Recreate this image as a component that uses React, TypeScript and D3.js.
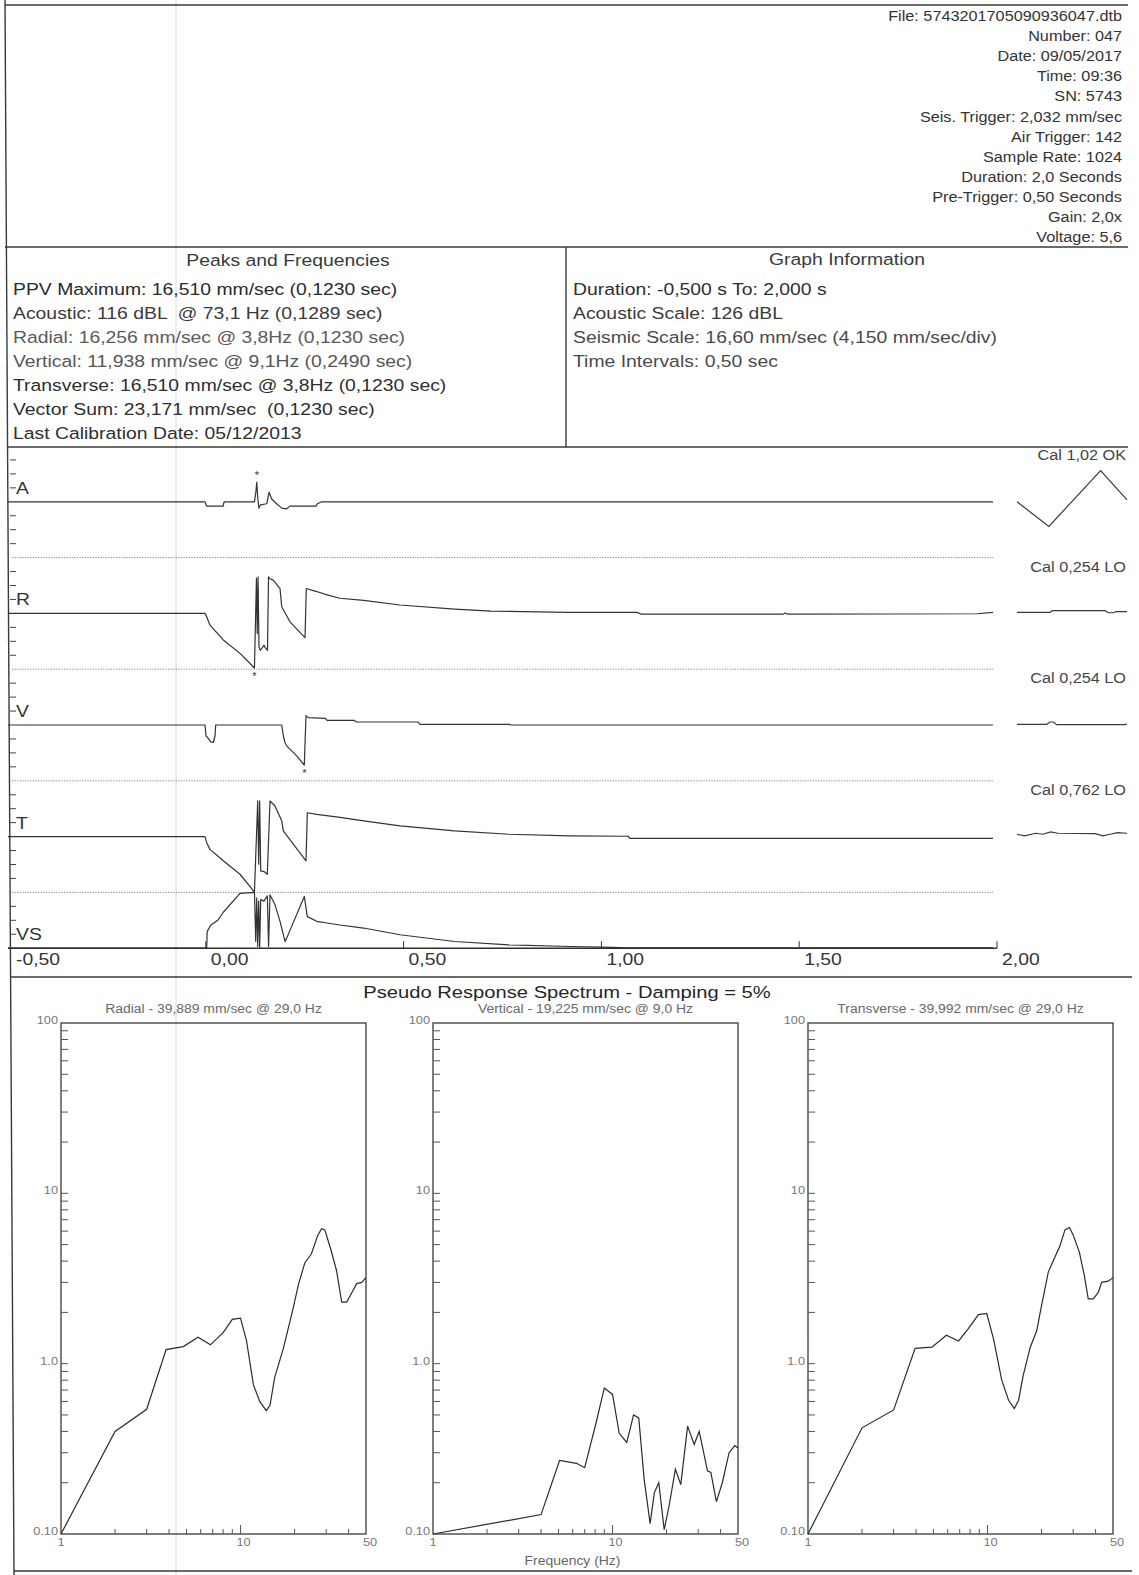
import React from 'react';
import * as d3 from 'd3';

const W = 1139, H = 1575;
const FONT = "'Liberation Sans', Arial, Helvetica, sans-serif";
const SX = 1.16;

const headerLines = [
  'File: 5743201705090936047.dtb', 'Number: 047', 'Date: 09/05/2017', 'Time: 09:36', 'SN: 5743',
  'Seis. Trigger: 2,032 mm/sec', 'Air Trigger: 142', 'Sample Rate: 1024', 'Duration: 2,0 Seconds',
  'Pre-Trigger: 0,50 Seconds', 'Gain: 2,0x', 'Voltage: 5,6',
];
const peaksTitle = 'Peaks and Frequencies';
const peaksLines = [
  'PPV Maximum: 16,510 mm/sec (0,1230 sec)',
  'Acoustic: 116 dBL  @ 73,1 Hz (0,1289 sec)',
  'Radial: 16,256 mm/sec @ 3,8Hz (0,1230 sec)',
  'Vertical: 11,938 mm/sec @ 9,1Hz (0,2490 sec)',
  'Transverse: 16,510 mm/sec @ 3,8Hz (0,1230 sec)',
  'Vector Sum: 23,171 mm/sec  (0,1230 sec)',
  'Last Calibration Date: 05/12/2013',
];
const graphTitle = 'Graph Information';
const graphLines = [
  'Duration: -0,500 s To: 2,000 s',
  'Acoustic Scale: 126 dBL',
  'Seismic Scale: 16,60 mm/sec (4,150 mm/sec/div)',
  'Time Intervals: 0,50 sec',
];
const channels = ['A', 'R', 'V', 'T', 'VS'];
const calLabels = ['Cal 1,02 OK', 'Cal 0,254 LO', 'Cal 0,254 LO', 'Cal 0,762 LO'];
const timeTicks = [-0.5, 0, 0.5, 1, 1.5, 2];
const timeTickLabels = ['-0,50', '0,00', '0,50', '1,00', '1,50', '2,00'];

// waveforms: [time s, value] (A in Pa, others in mm/sec)
const acousticTrace: [number, number][] = [
  [-0.5, 0], [-0.002, 0], [0.002, -3.1], [0.044, -3.1], [0.046, 0], [0.123, 0], [0.1265, 6.9],
  [0.1289, 14.0], [0.1315, 2], [0.1345, -4.5], [0.138, -2.2], [0.154, -1.4], [0.16, 6.9],
  [0.1665, 2], [0.179, -1.4], [0.192, -4.5], [0.2045, -5], [0.213, -3.1], [0.2786, -3.1],
  [0.282, -1.4], [0.293, 0], [1.99, 0],
];
const radialTrace: [number, number][] = [
  [-0.5, 0], [-0.002, 0], [0.0005, -0.5], [0.0106, -3.5], [0.0442, -7.9], [0.0865, -11.9],
  [0.123, -16.256], [0.128, 10.5], [0.13, -6], [0.132, 10.9], [0.1345, -10], [0.138, -11],
  [0.142, -10.3], [0.147, -9.5], [0.152, -10.5], [0.156, -11], [0.1585, 10.9], [0.162, 10.3],
  [0.1706, 9.9], [0.1876, 7.4], [0.1919, 2], [0.2128, -2.5], [0.2508, -7.2], [0.254, 7.4],
  [0.2803, 6.5], [0.3064, 5.5], [0.339, 4.5], [0.399, 3.9], [0.491, 2.5], [0.629, 1.3],
  [0.721, 0.7], [0.913, 0.3], [1.09, 0.3], [1.1, -0.2], [1.46, -0.2], [1.465, 0.1], [1.47, -0.2],
  [1.95, -0.1], [1.99, 0.3],
];
const verticalTrace: [number, number][] = [
  [-0.5, 0], [-0.002, 0], [0.0005, -3.2], [0.0063, -4], [0.0124, -5], [0.019, -5.2],
  [0.0233, -3.2], [0.025, 0], [0.1919, 0], [0.196, -3.2], [0.2, -5.2], [0.2045, -6.2],
  [0.2298, -9.2], [0.249, -11.938], [0.2533, 2.8], [0.2591, 2.2], [0.3026, 2], [0.3064, 1.4],
  [0.3759, 1.4], [0.3797, 0.9], [0.5364, 0.9], [0.5415, 0.2], [0.7664, 0.2], [0.7715, 0], [1.99, 0],
];
const transverseTrace: [number, number][] = [
  [-0.5, 0], [-0.002, 0], [0.0023, -1.8], [0.0106, -3.8], [0.0442, -7.2], [0.0865, -11.2],
  [0.123, -16.51], [0.1312, 10.6], [0.1337, -8.2], [0.1362, 10.6], [0.1388, -10.2],
  [0.1471, -10.4], [0.1555, -11.2], [0.1623, 10.6], [0.1749, 9.1], [0.1919, 4.7], [0.1959, 1.7],
  [0.2533, -7.2], [0.2566, 7.1], [0.2803, 6.6], [0.3392, 5.7], [0.3989, 4.7], [0.4909, 3.2],
  [0.6287, 1.7], [0.7664, 0.7], [0.9206, 0.2], [1.0672, 0.1], [1.0723, -0.5], [1.99, -0.5],
];
const vectorSumTrace: [number, number][] = [
  [-0.5, 0], [0.0023, 0], [0.0035, 5], [0.013, 6.9], [0.0309, 8.4], [0.0442, 10.7],
  [0.0865, 16.3], [0.123, 23.171], [0.1262, 2], [0.1287, 15], [0.1312, 0.5], [0.1337, 14],
  [0.1362, 0.3], [0.1388, 14.5], [0.147, 14], [0.1555, 15.6], [0.1587, 0.5], [0.1623, 15.9],
  [0.1749, 12.9], [0.1876, 8], [0.2003, 2], [0.2045, 3], [0.249, 15.4], [0.2566, 9.4],
  [0.2803, 8], [0.3064, 7.5], [0.3392, 6.9], [0.3989, 6], [0.4909, 4], [0.6287, 2],
  [0.7664, 1], [0.9206, 0.5], [1.0, 0.3], [1.07, 0.1], [1.99, 0.1],
];
// calibration pulses: [fraction of cal window, value]
const calA: [number, number][] = [[0, 0], [0.29, -17.6], [0.76, 22.3], [1, 1.4]];
const calR: [number, number][] = [[0, 0.3], [0.3, 0.3], [0.32, 0.8], [0.8, 0.8], [0.83, 0.2], [0.88, 0.2], [0.9, 0.5], [1, 0.5]];
const calV: [number, number][] = [[0, 0.2], [0.27, 0.2], [0.3, 0.9], [0.33, 0.9], [0.36, 0.1], [0.98, 0.1], [1, 0.3]];
const calT: [number, number][] = [[0, 0.7], [0.068, 0.2], [0.17, 1], [0.237, 0.7], [0.305, 1.4], [0.373, 1], [0.712, 0.9], [0.78, 0.2], [0.847, 0.7], [0.915, 1.2], [1, 1]];
const peakMarks = [{ ch: 0, t: 0.1289, v: 14.0, up: true }, { ch: 1, t: 0.123, v: -16.256, up: false }, { ch: 2, t: 0.249, v: -11.938, up: false }];

// spectra: [frequency Hz, value]
const spectrumTitle = 'Pseudo Response Spectrum - Damping = 5%';
const radialSpecTitle = 'Radial - 39,889 mm/sec @ 29,0 Hz';
const verticalSpecTitle = 'Vertical - 19,225 mm/sec @ 9,0 Hz';
const transverseSpecTitle = 'Transverse - 39,992 mm/sec @ 29,0 Hz';
const radialSpec: [number, number][] = [
  [1, 0.1], [2, 0.4], [3, 0.54], [3.85, 1.21], [4.8, 1.26], [5.8, 1.43], [6.8, 1.29], [8.0, 1.52],
  [9.0, 1.82], [10, 1.85], [10.8, 1.36], [11.8, 0.75], [12.8, 0.6], [13.9, 0.53], [14.6, 0.57],
  [15.5, 0.83], [17.3, 1.22], [19.6, 2.1], [21, 2.9], [22.8, 3.9], [24.8, 4.4], [27, 5.7],
  [28.3, 6.2], [29.5, 6.1], [32, 4.6], [34.3, 3.5], [36.6, 2.3], [39, 2.3], [41.6, 2.6],
  [44.4, 2.95], [47.3, 3.0], [50, 3.2],
];
const verticalSpec: [number, number][] = [
  [1, 0.1], [4, 0.13], [5.07, 0.27], [6.3, 0.26], [7, 0.245], [8.1, 0.45], [9, 0.72], [10, 0.66],
  [10.9, 0.39], [12, 0.345], [13.1, 0.5], [14, 0.48], [15, 0.21], [16.2, 0.115], [17.1, 0.175],
  [18.1, 0.2], [19.4, 0.106], [20.7, 0.148], [22.4, 0.24], [24, 0.195], [26.2, 0.43],
  [28.5, 0.335], [30.4, 0.4], [33.8, 0.235], [35.3, 0.23], [37.9, 0.155], [40.9, 0.2],
  [44.6, 0.3], [48, 0.33], [50, 0.32],
];
const transverseSpec: [number, number][] = [
  [1, 0.1], [2, 0.42], [3, 0.535], [3.95, 1.23], [4.9, 1.25], [5.9, 1.47], [6.9, 1.36], [7.8, 1.6],
  [8.9, 1.94], [9.9, 1.97], [10.8, 1.4], [12, 0.8], [13.1, 0.61], [14.1, 0.545], [14.9, 0.61],
  [15.8, 0.85], [17.3, 1.25], [18.8, 1.56], [20, 2.2], [21.8, 3.45], [23.3, 4.05], [25.3, 4.9],
  [27, 6.1], [28.6, 6.3], [30, 5.7], [32.5, 4.5], [34.5, 3.35], [36.4, 2.4], [38.8, 2.4],
  [41.4, 2.62], [43.2, 3.0], [47, 3.05], [50, 3.2],
];
const specYTicks = [0.1, 1, 10, 100];
const specYTickLabels = ['0.10', '1.0', '10', '100'];
const specXTicks = [1, 10, 50];
const specXTickLabels = ['1', '10', '50'];
const freqLabel = 'Frequency (Hz)';

function Txt({ x, y, size, anchor = 'start', fill = '#2e2e2e', sx = SX, children }: any) {
  return (
    <text transform={`translate(${x},${y}) scale(${sx},1)`} fontSize={size} textAnchor={anchor}
      fill={fill} fontFamily={FONT} style={{ whiteSpace: 'pre' }}>{children}</text>
  );
}

function Spectrum({ left, data, title, showFreq }: any) {
  const top = 1023, bottom = 1534, width = 305;
  const x = d3.scaleLog().domain([1, 50]).range([left, left + width]);
  const y = d3.scaleLog().domain([0.1, 100]).range([bottom, top]);
  const line = d3.line<[number, number]>().x(d => x(d[0])).y(d => y(d[1]));
  const yt = y.ticks().filter(v => v > 0.1 && v < 100);
  const xt = x.ticks().filter(v => v > 1 && v < 50);
  return (
    <g>
      <Txt x={left + width / 2} y={1013} size={12} anchor="middle" fill="#6a6a6a">{title}</Txt>
      <rect x={left} y={top} width={width} height={bottom - top} fill="none" stroke="#3a3a3a" strokeWidth={1.3} />
      {yt.map((v, i) => (
        <line key={'y' + i} x1={left} x2={left + 7} y1={y(v)} y2={y(v)} stroke="#555" strokeWidth={1} />
      ))}
      {xt.map((v, i) => (
        <line key={'x' + i} x1={x(v)} x2={x(v)} y1={bottom} y2={bottom - (v === 10 ? 9 : 5)} stroke="#555" strokeWidth={1} />
      ))}
      {specYTicks.map((v, i) => (
        <Txt key={'yl' + i} x={left - 3} y={y(v) + 1} size={11} anchor="end" fill="#777">{specYTickLabels[i]}</Txt>
      ))}
      {specXTicks.map((v, i) => (
        <Txt key={'xl' + i} x={x(v) + (v === 50 ? 4 : v === 10 ? 3 : 0)} y={1546} size={11} anchor="middle" fill="#777">{specXTickLabels[i]}</Txt>
      ))}
      <path d={line(data) || ''} fill="none" stroke="#2c2c2c" strokeWidth={1.2} />
      {showFreq && <Txt x={left + width / 2 - 13} y={1565} size={12} anchor="middle" fill="#666">{freqLabel}</Txt>}
    </g>
  );
}

export default function App() {
  const xT = d3.scaleLinear().domain([-0.5, 2.0]).range([8, 997]);
  const bandTop = 446, bandH = 111.6, half = bandH / 2;
  const centers = channels.map((_, i) => bandTop + bandH * i + half);
  const seis = (c: number) => d3.scaleLinear().domain([-16.6, 16.6]).range([c + half, c - half]);
  const yA = d3.scaleLinear().domain([-39.9, 39.9]).range([centers[0] + half, centers[0] - half]);
  const yR = seis(centers[1]), yV = seis(centers[2]), yTr = seis(centers[3]);
  const yVS = d3.scaleLinear().domain([0, 16.6]).range([centers[4], centers[4] - half]).clamp(true);
  const scales = [yA, yR, yV, yTr, yVS];
  const mk = (ys: any) => d3.line<[number, number]>().x(d => xT(d[0])).y(d => ys(d[1]));
  const xCal = d3.scaleLinear().domain([0, 1]).range([1017, 1127]);
  const mkCal = (ys: any) => d3.line<[number, number]>().x(d => xCal(d[0])).y(d => ys(d[1]));
  const traces: [any, [number, number][]][] = [[yA, acousticTrace], [yR, radialTrace], [yV, verticalTrace], [yTr, transverseTrace], [yVS, vectorSumTrace]];
  const cals: [any, [number, number][]][] = [[yA, calA], [yR, calR], [yV, calV], [yTr, calT]];
  const div = half / 4;
  const peakShade = ['#2a2a2a', '#3a3a3a', '#5a5a5a', '#555', '#2e2e2e', '#2e2e2e', '#2e2e2e'];
  const graphShade = ['#2e2e2e', '#3a3a3a', '#4a4a4a', '#4a4a4a'];
  const dark = '#3a3a3a';

  return (
    <svg width={W} height={H} viewBox={`0 0 ${W} ${H}`} style={{ position: 'absolute', left: 0, top: 0, display: 'block', background: '#fff' }}>
      <rect x={0} y={0} width={W} height={H} fill="#ffffff" />
      {/* scan fold */}
      <line x1={176} x2={176} y1={0} y2={H} stroke="#ececec" strokeWidth={2} />
      {/* frame */}
      <line x1={5} x2={14} y1={0} y2={H} stroke={dark} strokeWidth={1.4} />
      <line x1={5} x2={1128} y1={5} y2={5} stroke={dark} strokeWidth={1.4} />
      <line x1={5} x2={1128} y1={247} y2={247} stroke={dark} strokeWidth={1.4} />
      <line x1={7} x2={1128} y1={447} y2={447} stroke={dark} strokeWidth={1.4} />
      <line x1={566} x2={566} y1={247} y2={447} stroke={dark} strokeWidth={1.4} />
      <line x1={11} x2={1132} y1={977} y2={977} stroke={dark} strokeWidth={1.4} />
      <line x1={14} x2={1132} y1={1571} y2={1571} stroke={dark} strokeWidth={1.4} />

      {headerLines.map((s, i) => (
        <Txt key={'h' + i} x={1122} y={21 + 20.1 * i} size={14} anchor="end" fill="#333">{s}</Txt>
      ))}

      <Txt x={288} y={266} size={16.7} anchor="middle" fill="#3a3a3a">{peaksTitle}</Txt>
      {peaksLines.map((s, i) => (
        <Txt key={'p' + i} x={13} y={295 + 24 * i} size={16.7} fill={peakShade[i]}>{s}</Txt>
      ))}
      <Txt x={847} y={265} size={16.7} anchor="middle" fill="#3a3a3a">{graphTitle}</Txt>
      {graphLines.map((s, i) => (
        <Txt key={'g' + i} x={573} y={295 + 24 * i} size={16.7} fill={graphShade[i]}>{s}</Txt>
      ))}

      {/* channel separators */}
      {[1, 2, 3, 4].map(i => (
        <line key={'d' + i} x1={12} x2={993} y1={bandTop + bandH * i} y2={bandTop + bandH * i} stroke="#8c8c8c" strokeWidth={1} strokeDasharray="1.3 1.3" />
      ))}
      {calLabels.map((s, i) => (
        <Txt key={'c' + i} x={1126} y={bandTop + bandH * i + 14} size={14} anchor="end" fill="#444">{s}</Txt>
      ))}
      {/* left ticks and labels */}
      {channels.map((c, i) => (
        <g key={'ch' + i}>
          {(i < 4 ? [-3, -2, -1, 1, 2, 3] : [1, 2, 3]).map(k => (
            <line key={k} x1={10} x2={16} y1={centers[i] - k * div} y2={centers[i] - k * div} stroke="#444" strokeWidth={1} />
          ))}
          <Txt x={16} y={centers[i] - div + 6} size={16.7} fill="#333">{c}</Txt>
        </g>
      ))}
      {/* traces */}
      {traces.map(([ys, data], i) => (
        <path key={'tr' + i} d={mk(ys)(data) || ''} fill="none" stroke="#333" strokeWidth={1.2} strokeLinejoin="round" />
      ))}
      {cals.map(([ys, data], i) => (
        <path key={'cal' + i} d={mkCal(ys)(data) || ''} fill="none" stroke="#3a3a3a" strokeWidth={1.2} />
      ))}
      {peakMarks.map((m, i) => (
        <Txt key={'pk' + i} x={xT(m.t)} y={scales[m.ch](m.v) + (m.up ? -3 : 12)} size={11} anchor="middle" fill="#333" sx={1}>*</Txt>
      ))}
      {/* time axis */}
      <line x1={xT(-0.5)} x2={xT(2)} y1={centers[4]} y2={centers[4]} stroke="#2e2e2e" strokeWidth={1.6} />
      {timeTicks.filter(t => t > -0.5).map((t, i) => (
        <line key={'tt' + i} x1={xT(t)} x2={xT(t)} y1={centers[4]} y2={centers[4] - 7} stroke="#333" strokeWidth={1} />
      ))}
      {timeTicks.map((t, i) => (
        <Txt key={'tl' + i} x={t === -0.5 ? 16 : xT(t) + 5} y={965} size={16.7} fill="#333">{timeTickLabels[i]}</Txt>
      ))}

      {/* spectra */}
      <Txt x={567} y={998} size={17.4} anchor="middle" fill="#262626">{spectrumTitle}</Txt>
      <Spectrum left={61} data={radialSpec} title={radialSpecTitle} />
      <Spectrum left={433} data={verticalSpec} title={verticalSpecTitle} showFreq />
      <Spectrum left={808} data={transverseSpec} title={transverseSpecTitle} />
    </svg>
  );
}
